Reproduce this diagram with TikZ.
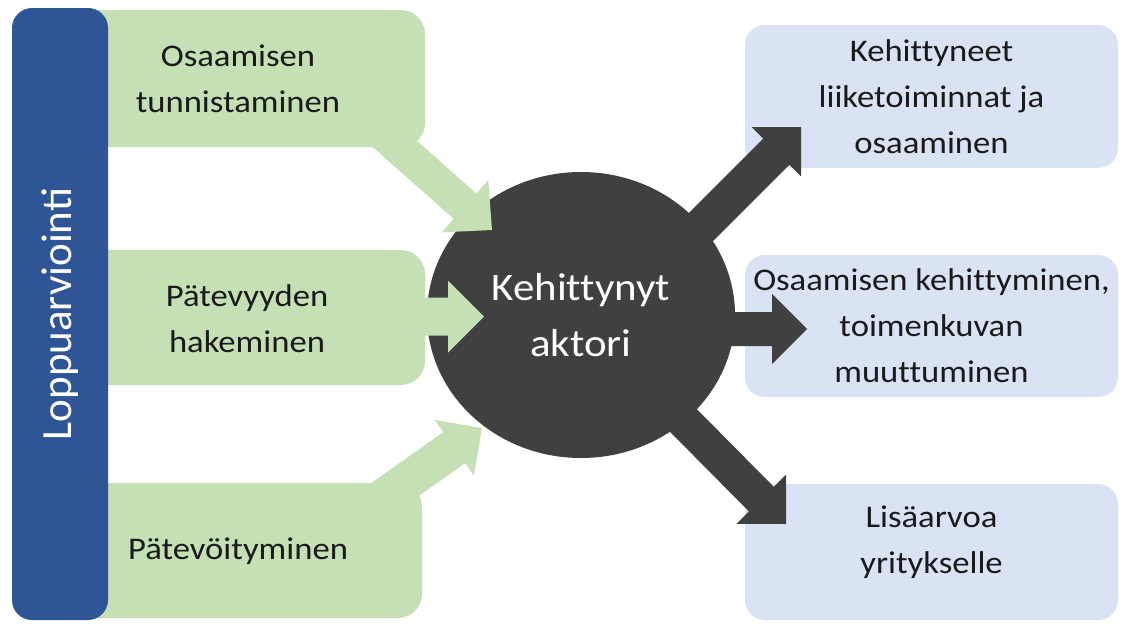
\documentclass[tikz,border=0pt]{standalone}
\usepackage{fontspec}
\setmainfont{Carlito}[FakeStretch=1.1, Ligatures=NoCommon]
\newfontfamily\barfont{Carlito}
\usepackage{tikz}
\usetikzlibrary{calc,shapes.geometric}
\usepackage{xcolor}
\definecolor{boxgreen}{HTML}{C5E0B4}
\definecolor{barblue}{HTML}{2F5597}
\definecolor{boxblue}{HTML}{DAE3F3}
\definecolor{hubgray}{HTML}{404040}
\definecolor{inkblack}{HTML}{1A1A1A}

% block arrow: fill, start, tip, half shaft, head length, half head
\newcommand{\blockarrow}[6]{%
  \path ($(#3)!#5!(#2)$) coordinate (ab);
  \fill[#1] ($(#2)!#4!90:(#3)$) -- ($(ab)!#4!90:(#3)$) -- ($(ab)!#6!90:(#3)$) -- (#3)
    -- ($(ab)!#6!-90:(#3)$) -- ($(ab)!#4!-90:(#3)$) -- ($(#2)!#4!-90:(#3)$) -- cycle;
}

\begin{document}
\begin{tikzpicture}[x=1pt, y=-1pt,
    gbox/.style={fill=boxgreen, rounded corners=24pt, inner sep=0pt},
    bbox/.style={fill=boxblue, rounded corners=20pt, inner sep=0pt, align=center,
                 text=inkblack, font=\fontsize{31.5}{46}\selectfont,
                 minimum width=373pt},
    gtext/.style={align=center, text=inkblack, font=\fontsize{31.5}{46}\selectfont, inner sep=0pt},
    hub/.style={ellipse, fill=hubgray, minimum width=308pt, minimum height=286pt,
                align=center, text=white, font=\fontsize{39}{56}\selectfont}
  ]
    \useasboundingbox (0,0) rectangle (1123,630);

    % Result boxes
    \node[bbox, minimum height=143pt] (res1) at (931.5,96.5) {Kehittyneet\\liiketoiminnat ja\\osaaminen};
    \node[bbox, minimum height=142pt] (res2) at (931.5,326) {Osaamisen kehittyminen,\\toimenkuvan\\muuttuminen};
    \node[bbox, minimum height=136pt] (res3) at (931.5,552) {};
    \node[gtext] (res3t) at (931.5,542) {Lisäarvoa\\yritykselle};

    % Actor
    \node[hub] (actor) at (581,315) {Kehittynyt\\aktori};

    % Outgoing arrows
    \coordinate (d1s) at (665,263); \coordinate (d1t) at (801,127);
    \coordinate (d2s) at (700,329); \coordinate (d2t) at (807,329);
    \coordinate (d3s) at (680,417); \coordinate (d3t) at (786,524);
    \blockarrow{hubgray}{d1s}{d1t}{18.5pt}{35pt}{35pt}
    \blockarrow{hubgray}{d2s}{d2t}{17pt}{35pt}{35pt}
    \blockarrow{hubgray}{d3s}{d3t}{17.5pt}{35pt}{35pt}

    % Phase boxes
    \node[gbox, minimum width=365pt, minimum height=137pt] (ph1) at (242.5,78.5) {};
    \node[gbox, minimum width=365pt, minimum height=135pt] (ph2) at (242.5,317.5) {};
    \node[gbox, minimum width=362pt, minimum height=135pt] (ph3) at (241,550.5) {};
    \node[gtext] at (238,79) {Osaamisen\\tunnistaminen};
    \node[gtext] at (247,319) {Pätevyyden\\hakeminen};
    \node[gtext] at (238,551) {Pätevöityminen};

    % Incoming arrows
    \coordinate (g1s) at (379,130); \coordinate (g1t) at (492,230);
    \coordinate (g2s) at (410,316.5); \coordinate (g2t) at (484,316.5);
    \coordinate (g3s) at (373,505); \coordinate (g3t) at (482,428);
    \blockarrow{boxgreen}{g1s}{g1t}{17pt}{36pt}{35pt}
    \blockarrow{boxgreen}{g2s}{g2t}{19pt}{36pt}{36pt}
    \blockarrow{boxgreen}{g3s}{g3t}{19pt}{34pt}{34pt}

    % Evaluation bar
    \node[fill=barblue, rounded corners=20pt, minimum width=96pt, minimum height=612pt,
          inner sep=0pt] (eval) at (60,314) {};
    \node[rotate=90, text=white, font=\barfont\fontsize{43}{50}\selectfont] at (eval) {Loppuarviointi};
\end{tikzpicture}
\end{document}
